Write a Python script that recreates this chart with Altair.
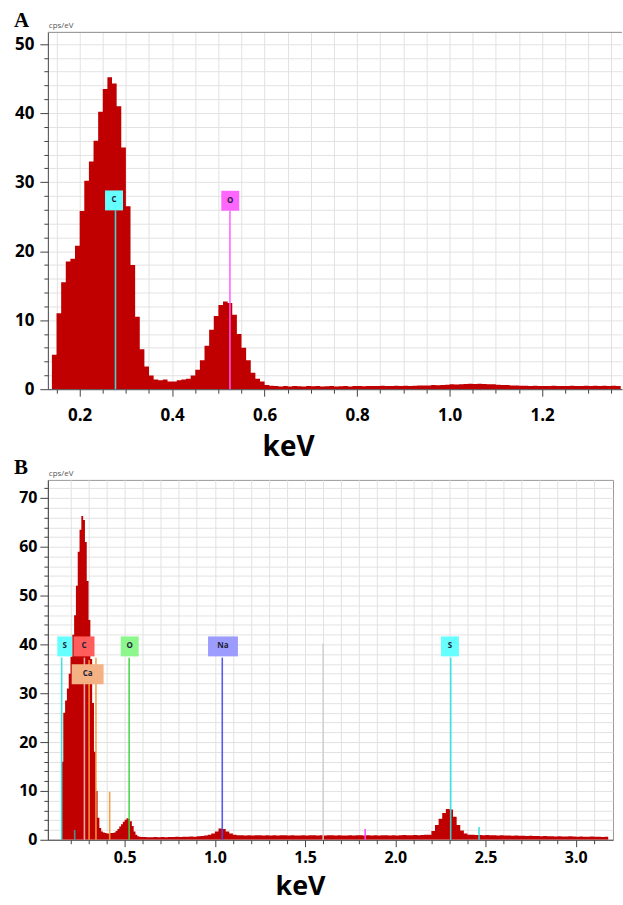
import altair as alt
import numpy as np
import pandas as pd

FONT = "Open Sans"
RED = "#c00000"
GRID = "#e2e2e2"
AXIS_DARK = "#444444"

# ---------------- spectrum A (counts per channel, cps/eV) ----------------
A_START, A_STEP = 0.14, 0.01
a_counts = [
    5.0, 11.0, 15.5, 18.5, 18.9, 20.8, 25.8, 30.2, 33.0, 36.0,
    40.2, 43.5, 45.2, 44.3, 41.0, 35.0, 26.5, 18.0, 10.5, 5.8,
    3.3, 2.0, 1.4, 1.3, 1.4, 1.1, 1.1, 1.3, 1.4, 1.5,
    2.0, 2.8, 4.2, 6.3, 8.6, 10.6, 12.2, 12.7, 12.5, 10.8,
    8.0, 6.0, 4.2, 2.4, 1.5, 1.1, 0.6, 0.5,
    0.45, 0.4, 0.45, 0.4, 0.45, 0.42, 0.4, 0.45,
    0.42, 0.45, 0.4, 0.42, 0.45, 0.4, 0.42, 0.45, 0.4, 0.45,
    0.45, 0.42, 0.45, 0.48, 0.45, 0.5, 0.45, 0.48, 0.5, 0.45,
    0.5, 0.48, 0.5, 0.55, 0.52, 0.55, 0.6, 0.58, 0.62, 0.65,
    0.7, 0.68, 0.72, 0.75, 0.78, 0.75, 0.8, 0.75, 0.72, 0.7,
    0.65, 0.62, 0.6, 0.55, 0.52, 0.5, 0.5, 0.48, 0.5, 0.48,
    0.45, 0.48, 0.5, 0.45, 0.48, 0.45, 0.5, 0.48, 0.45, 0.5,
    0.48, 0.5, 0.45, 0.5, 0.48, 0.5, 0.48,
]

a_line_element = ["C", "O"]
a_line_energy = [0.2775, 0.525]
a_line_top = [25.9, 25.8]
a_label_text = ["C", "O"]
a_label_energy = [0.2743, 0.5257]
a_label_level = [27.35, 27.3]

# ---------------- spectrum B ----------------
B_FINE_START, B_FINE_STEP = 0.10, 0.01
b_fine_counts = [
    0, 0, 0, 0, 0, 16, 26, 28.5, 31, 34,
    37.5, 42, 46, 52, 59, 63.5, 66.3, 65.5, 61, 53,
    45, 37, 28, 18, 10, 4.5, 2.4, 1.7, 1.5, 1.4,
    1.3, 1.3, 1.4, 1.4, 1.5, 1.8, 2.2, 2.7, 3.2, 3.7,
    4.1, 4.4, 4.3, 3.8, 2.8, 1.7, 1.0, 0.7, 0.6, 0.55,
]
B_COARSE_START, B_COARSE_STEP = 0.60, 0.02
b_coarse_counts = [
    # 0.60 - 0.94
    0.55, 0.5, 0.5, 0.55, 0.5, 0.55, 0.5, 0.55, 0.55, 0.6,
    0.55, 0.6, 0.6, 0.65, 0.6, 0.7, 0.75, 0.85,
    # Na K
    1.0, 1.3, 1.7, 2.3, 2.2, 1.7, 1.3, 1.0, 0.9,
    # 1.14 - 2.16
    0.9, 0.85, 0.9, 0.85, 0.9, 0.9, 0.85, 0.9, 0.85, 0.9,
    0.85, 0.9, 0.9, 0.85, 0.9, 0.85, 0.85, 0.9, 0.85, 0.9,
    0.9, 0.85, 0.9, 0.85, 0.9, 0.9, 0.85, 0.9, 0.85, 0.85,
    0.9, 0.85, 0.9, 0.9, 0.85, 0.9, 0.85, 0.9, 0.85, 0.9,
    0.9, 0.85, 0.9, 0.85, 0.9, 0.95, 0.9, 0.9, 0.95, 0.9,
    0.95, 1.0,
    # S K
    1.0, 1.8, 3.0, 4.3, 5.5, 6.3, 6.2, 4.7, 3.0, 1.9,
    1.3, 1.05, 1.0,
    # 2.44 - 3.16
    0.95, 0.95, 0.9, 0.95, 0.9, 0.9, 0.85, 0.9, 0.85, 0.85,
    0.8, 0.85, 0.8, 0.8, 0.75, 0.8, 0.75, 0.75, 0.7, 0.75,
    0.7, 0.7, 0.65, 0.7, 0.65, 0.65, 0.7, 0.65, 0.6, 0.65,
    0.6, 0.6, 0.65, 0.6, 0.6, 0.55, 0.6,
]

b_line_element = ["S", "C", "Ca", "Ca", "Ca", "O", "Na", "cursor", "S", "Si", "S", "esc"]
b_line_energy = [0.151, 0.277, 0.303, 0.341, 0.417, 0.525, 1.041, 1.600, 2.307, 1.833, 2.464, 0.223]
b_line_top = [37.3, 37.3, 36.8, 37.3, 9.8, 37.3, 37.3, 40.2, 37.3, 2.2, 2.6, 2.0]
b_label_text = ["S", "C", "Ca", "O", "Na", "S"]
b_label_energy = [0.168, 0.275, 0.295, 0.528, 1.045, 2.303]
b_label_level = [39.6, 39.6, 33.9, 39.6, 39.6, 39.6]

# ---------------- layout & style ----------------
A_W, A_H, A_YMAX = 576, 358, 51.7
A_XDOM = [0.142, 1.362]
B_W, B_H, B_YMAX = 567, 361, 73.7
B_XDOM = [0.102, 3.179]
BOX_H_PX = 20
a_box_width_px = [18, 18]
b_box_width_px = [15, 21, 32, 18, 30, 18]

a_line_colors = {"C": "#3fe2e2", "O": "#ff5cff"}
a_line_widths = {"C": 1.6, "O": 1.6}
a_box_colors = {"C": "#66ffff", "O": "#ff66ff"}
b_line_colors = {"S": "#33dede", "C": "#f2b4b4", "Ca": "#f59a3c", "O": "#3fd23f",
                 "Na": "#4b4be8", "cursor": "#cfcfcf", "Si": "#ff44ff", "esc": "#3a9f9f"}
b_line_widths = {"S": 1.6, "C": 1.6, "Ca": 1.6, "O": 1.6, "Na": 1.8,
                 "cursor": 2.4, "Si": 1.6, "esc": 1.6}
b_box_colors = {"S": "#66ffff", "C": "#ff5c5c", "Ca": "#f4b183", "O": "#8cf78c", "Na": "#9c9cff"}


def spectrum_frame(segments):
    rows = []
    for start, step, counts in segments:
        for i, c in enumerate(counts):
            rows.append((round(start + i * step, 4), c))
    # closing edge of the last channel so the final step is drawn
    start, step, counts = segments[-1]
    rows.append((round(start + len(counts) * step, 4), counts[-1]))
    return pd.DataFrame(rows, columns=["energy", "counts"])


def line_frame(elements, energies, tops):
    return pd.DataFrame({"element": elements, "energy": energies,
                         "counts": [0.0] * len(energies), "top": tops})


def box_frame(labels, energies, levels, widths, ymax, h):
    half = BOX_H_PX / 2 * ymax / h
    return pd.DataFrame({"label": labels, "energy": energies, "counts": levels,
                         "lo": [v - half for v in levels], "hi": [v + half for v in levels],
                         "w": widths})


def y_axis(top, size, pad):
    return alt.Axis(
        values=list(range(0, top + 1, 2)),
        labelExpr="datum.value % 10 === 0 ? datum.label : ''",
        tickSize={"condition": {"test": "datum.value % 10 === 0", "value": 8}, "value": 4},
        tickColor=AXIS_DARK, domainColor=AXIS_DARK, grid=True, gridColor=GRID,
        labelFont=FONT, labelFontWeight="bold", labelFontSize=size, labelColor="black",
        labelPadding=pad, labelOverlap=False, title=None,
    )


def x_axis(values, major, pad, size, title_size, title_x, title_y):
    test = f"abs(datum.value*{major} - round(datum.value*{major})) < 0.001"
    return alt.Axis(
        values=values, format=".1f",
        labelExpr=f"{test} ? datum.label : ''",
        tickSize={"condition": {"test": test, "value": 7}, "value": 4},
        tickColor=AXIS_DARK, domainColor=AXIS_DARK, grid=True, gridColor=GRID,
        labelFont=FONT, labelFontWeight="bold", labelFontSize=size, labelColor="black",
        labelPadding=pad, labelOverlap=False, labelFlush=False,
        title="keV", titleFont=FONT, titleFontWeight="bold", titleFontSize=title_size,
        titleColor="black", titleAlign="center", titleBaseline="alphabetic",
        titleX=title_x, titleY=title_y,
    )


def panel(spec_df, lines_df, boxes_df, xdom, ymax, xaxis, yaxis, line_colors,
          line_widths, box_colors, width, height, letter, letter_dy, frame):
    # every layer shares the same x / y definitions so the axes merge cleanly
    x_enc = alt.X("energy:Q", scale=alt.Scale(domain=xdom, nice=False, zero=False), axis=xaxis)
    y_enc = alt.Y("counts:Q", scale=alt.Scale(domain=[0, ymax], nice=False), axis=yaxis)

    spectrum = alt.Chart(spec_df).mark_area(
        interpolate="step-after", color=RED, clip=True
    ).encode(x=x_enc, y=y_enc)

    rules = alt.Chart(lines_df).mark_rule(opacity=0.92).encode(
        x=x_enc, y=y_enc, y2="top:Q",
        stroke=alt.Stroke("element:N", legend=None,
                          scale=alt.Scale(domain=list(line_colors), range=list(line_colors.values()))),
        strokeWidth=alt.StrokeWidth("element:N", legend=None,
                                    scale=alt.Scale(domain=list(line_widths), range=list(line_widths.values()))),
    )

    boxes = alt.Chart(boxes_df).mark_bar().encode(
        x=x_enc,
        y=alt.Y("lo:Q", scale=alt.Scale(domain=[0, ymax], nice=False), axis=yaxis),
        y2="hi:Q",
        size=alt.Size("w:Q", scale=None, legend=None),
        fill=alt.Fill("label:N", legend=None,
                      scale=alt.Scale(domain=list(box_colors), range=list(box_colors.values()))),
    )

    texts = alt.Chart(boxes_df).mark_text(
        font=FONT, fontSize=8, fontWeight="bold", color="#1e1e38"
    ).encode(x=x_enc, y=y_enc, text="label:N")

    one = pd.DataFrame({"t": [letter], "u": ["cps/eV"]})
    unit = alt.Chart(one).mark_text(
        font=FONT, fontSize=8, color="#555555", align="left", baseline="bottom"
    ).encode(x=alt.value(1), y=alt.value(-2), text="u:N")
    tag = alt.Chart(one).mark_text(
        font="Liberation Serif", fontSize=21, fontWeight="bold", color="black",
        align="left", baseline="alphabetic"
    ).encode(x=alt.value(-34), y=alt.value(letter_dy), text="t:N")

    layers = [spectrum, rules, boxes, texts, unit, tag]
    view = alt.ViewBackground(stroke="#9a9a9a", strokeWidth=1)
    if not frame:
        top_edge = alt.Chart(one).mark_rule(color="#8a8a8a", strokeWidth=1).encode(
            x=alt.value(0), x2=alt.value(width), y=alt.value(0))
        layers.append(top_edge)
        view = alt.ViewBackground(stroke="transparent")

    return alt.layer(*layers).resolve_scale(fill="independent", stroke="independent").properties(
        width=width, height=height, view=view)


spec_a = spectrum_frame([(A_START, A_STEP, a_counts)])
spec_b = spectrum_frame([(B_FINE_START, B_FINE_STEP, b_fine_counts),
                         (B_COARSE_START, B_COARSE_STEP, b_coarse_counts)])

lines_a = line_frame(a_line_element, a_line_energy, a_line_top)
lines_b = line_frame(b_line_element, b_line_energy, b_line_top)
boxes_a = box_frame(a_label_text, a_label_energy, a_label_level, a_box_width_px, A_YMAX, A_H)
boxes_b = box_frame(b_label_text, b_label_energy, b_label_level, b_box_width_px, B_YMAX, B_H)

a_ticks = [round(0.15 + 0.05 * i, 2) for i in range(25)]
b_ticks = [round(0.2 + 0.1 * i, 1) for i in range(30)]

chart_a = panel(
    spec_a, lines_a, boxes_a, A_XDOM, A_YMAX,
    x_axis(a_ticks, 5, 11, 17, 28, 241, 67), y_axis(50, 17, 6),
    a_line_colors, a_line_widths, a_box_colors, A_W, A_H, "A", -5, frame=False,
)
chart_b = panel(
    spec_b, lines_b, boxes_b, B_XDOM, B_YMAX,
    x_axis(b_ticks, 2, 3, 16, 27, 253, 55), y_axis(72, 16, 3),
    b_line_colors, b_line_widths, b_box_colors, B_W, B_H, "B", -6, frame=True,
)

chart = alt.vconcat(chart_a, chart_b, spacing=91, bounds="flush").properties(
    padding={"left": 13, "top": 8, "right": 0, "bottom": 0},
    background="white",
)

chart.save("out.html", embed_options={"renderer": "svg", "actions": False})
